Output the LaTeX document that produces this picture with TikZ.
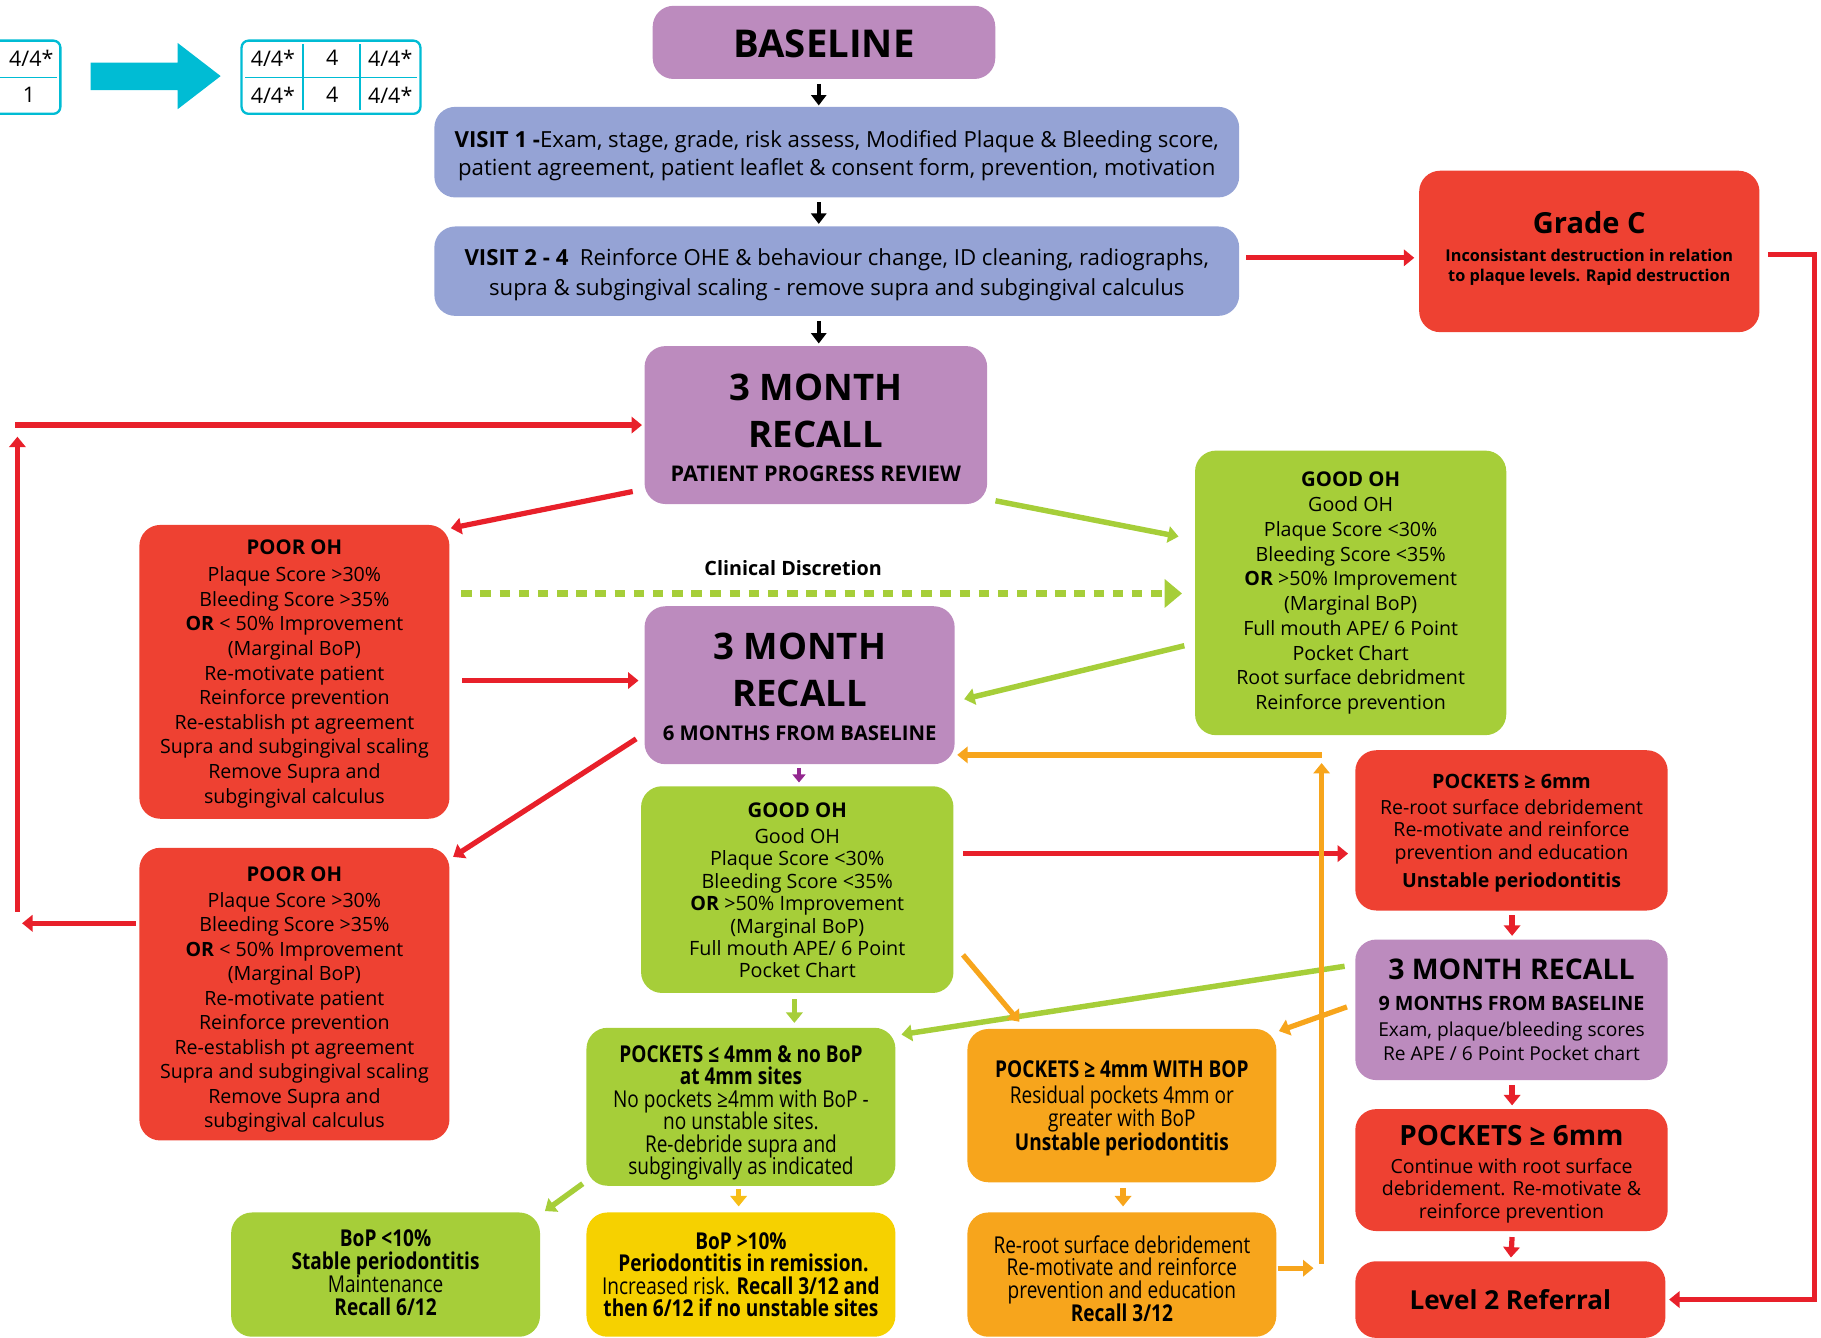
\documentclass[tikz,border=0pt]{standalone}
\usepackage{fontspec}
\setmainfont{Open Sans}
\newfontfamily\cond[FakeStretch=0.82]{Open Sans}
\usetikzlibrary{arrows.meta,calc}

\definecolor{cPurple}{HTML}{BC8BBE}
\definecolor{cBlue}{HTML}{95A3D5}
\definecolor{cRed}{HTML}{EE4132}
\definecolor{cRedLine}{HTML}{E8202A}
\definecolor{cGreen}{HTML}{A6CE39}
\definecolor{cOrange}{HTML}{F7A51C}
\definecolor{cYellow}{HTML}{F6D100}
\definecolor{cGold}{HTML}{F7BE16}
\definecolor{cCyan}{HTML}{00BCD4}
\definecolor{cPlum}{HTML}{93278F}

% font size with fixed leading (no lineskip fallback)
\newcommand{\fs}[2]{\fontsize{#1}{#2}\selectfont\lineskiplimit=-100pt\relax}
% invisible struts to nudge a text block down (\tup) or up (\tdn), in pt
\newcommand{\tup}[1]{\rule{0pt}{#1pt}}
\newcommand{\tdn}[1]{\rule[-#1pt]{0pt}{#1pt}}

\tikzset{
  box/.style={rounded corners=18pt, inner sep=0pt, align=center, text=black},
  conn/.style={line width=4.5pt, -{Triangle[length=9pt,width=14pt]}},
  redarr/.style={conn, draw=cRedLine},
  greenarr/.style={conn, draw=cGreen, line width=4.7pt},
  orangearr/.style={conn, draw=cOrange},
  blackarr/.style={line width=3pt, draw=black, -{Triangle[length=9pt,width=13pt]}},
  cell/.style={inner sep=0pt, font=\fs{18.5}{20}},
}

\begin{document}
\begin{tikzpicture}[x=1pt, y=-1pt]
\useasboundingbox (0,0) rectangle (1568,1152);
\clip (0,0) rectangle (1568,1152);

% ---------- tooth chart key ----------
\draw[cCyan, line width=2pt, rounded corners=6pt] (-20,35) rectangle (52,98);
\draw[cCyan, line width=1.2pt] (0,66.5) -- (49,66.5);
\node[cell] (ka) at (27,50) {4/4*};
\node[cell] (kb) at (25,82) {1};

\fill[cCyan] (78,54) -- (153,54) -- (153,37) -- (190,65.5) -- (153,94) -- (153,77.5) -- (78,77.5) -- cycle;

\draw[cCyan, line width=2pt, rounded corners=6pt] (208,35) rectangle (362,98);
\draw[cCyan, line width=1.2pt] (211,66.5) -- (359,66.5) (261,38) -- (261,95) (310,38) -- (310,95);
\node[cell] (kc) at (235,50) {4/4*};
\node[cell] (kd) at (286,50) {4};
\node[cell] (ke) at (336,50) {4/4*};
\node[cell] (kf) at (235,82) {4/4*};
\node[cell] (kg) at (286,82) {4};
\node[cell] (kh) at (336,82) {4/4*};

% ---------- boxes ----------
\node[box, fill=cPurple, minimum width=295pt, minimum height=63pt, font=\bfseries\fs{33}{36}]
  (baseline) at (709.5,36.5) {\tup{26}BASELINE};

\node[box, fill=cBlue, minimum width=693pt, minimum height=78pt, font=\fs{19.1}{24}]
  (visit1) at (720.5,131) {\tup{20.5}\textbf{VISIT 1 -}Exam, stage, grade, risk assess, Modified Plaque \& Bleeding score,\\
  patient agreement, patient leaflet \& consent form, prevention, motivation};

\node[box, fill=cBlue, minimum width=693pt, minimum height=77pt, font=\fs{19.1}{26}]
  (visit2) at (720.5,233.5) {\tup{20.5}\textbf{VISIT 2 - 4}\ \ Reinforce OHE \& behaviour change, ID cleaning, radiographs,\\
  supra \& subgingival scaling - remove supra and subgingival calculus};

\node[box, fill=cRed, minimum width=293pt, minimum height=139pt, font=\bfseries\fs{14}{18}]
  (gradec) at (1368.5,216.5) {{\fs{25}{25}Grade C}\\[6pt]
  Inconsistant destruction in relation\\ to plaque levels. Rapid destruction\tdn{8.5}};

\node[box, fill=cPurple, minimum width=295pt, minimum height=136pt, font=\bfseries\fs{31.5}{40}]
  (recall1) at (702.5,366) {\tup{28}3 MONTH\\ RECALL\\[-10pt] {\fs{18.6}{20}PATIENT PROGRESS REVIEW}};

\node[box, fill=cRed, minimum width=267pt, minimum height=253pt, font=\fs{16.9}{21.2}]
  (poor1) at (253.5,578.5) {{\bfseries\fs{17.5}{20}\tup{16.5}POOR OH}\\[1.8pt]
  Plaque Score >30\%\\ Bleeding Score >35\%\\ \textbf{OR} < 50\% Improvement\\ (Marginal BoP)\\
  Re-motivate patient\\ Reinforce prevention\\ Re-establish pt agreement\\
  Supra and subgingival scaling\\ Remove Supra and\\ subgingival calculus};

\node[box, fill=cGreen, minimum width=268pt, minimum height=245pt, font=\fs{16.9}{21.3}]
  (good1) at (1163,510.5) {{\bfseries\fs{17.5}{20}GOOD OH}\\[0.7pt]
  Good OH\\ Plaque Score <30\%\\ Bleeding Score <35\%\\ \textbf{OR} >50\% Improvement\\ (Marginal BoP)\\
  Full mouth APE/ 6 Point\\ Pocket Chart\\ Root surface debridment\\ Reinforce prevention};

\node[box, fill=cPurple, minimum width=267pt, minimum height=136pt, font=\bfseries\fs{31.5}{40}]
  (recall2) at (688.5,590) {\tup{25.5}3 MONTH\\ RECALL\\[-10.5pt] {\fs{17.5}{20}6 MONTHS FROM BASELINE}};

\node[box, fill=cGreen, minimum width=269pt, minimum height=178pt, font=\fs{17}{19.3}]
  (good2) at (686.5,766) {{\bfseries\fs{17.5}{20}\tup{14.5}GOOD OH}\\[2.7pt]
  Good OH\\ Plaque Score <30\%\\ Bleeding Score <35\%\\ \textbf{OR} >50\% Improvement\\ (Marginal BoP)\\
  Full mouth APE/ 6 Point\\ Pocket Chart};

\node[box, fill=cRed, minimum width=267pt, minimum height=252pt, font=\fs{16.9}{21.1}]
  (poor2) at (253.5,856) {{\bfseries\fs{17.5}{20}\tup{22.5}POOR OH}\\[1pt]
  Plaque Score >30\%\\ Bleeding Score >35\%\\ \textbf{OR} < 50\% Improvement\\ (Marginal BoP)\\
  Re-motivate patient\\ Reinforce prevention\\ Re-establish pt agreement\\
  Supra and subgingival scaling\\ Remove Supra and\\ subgingival calculus};

\node[box, fill=cRed, minimum width=269pt, minimum height=138pt, font=\fs{16.8}{19.3}]
  (pk6a) at (1301.5,715) {{\bfseries\fs{17}{20}\tup{17}POCKETS ≥ 6mm}\\[2.7pt]
  Re-root surface debridement\\ Re-motivate and reinforce\\ prevention and education\\[4.7pt]
  \textbf{Unstable periodontitis}};

\node[box, fill=cPurple, minimum width=269pt, minimum height=121pt, font=\fs{16.5}{20}]
  (recall3) at (1301.5,869.5) {{\bfseries\fs{24.5}{26}3 MONTH RECALL}\\[6pt]
  {\bfseries\fs{17}{20}9 MONTHS FROM BASELINE}\\[3pt]
  Exam, plaque/bleeding scores\\ Re APE / 6 Point Pocket chart};

\node[box, fill=cRed, minimum width=269pt, minimum height=105pt, font=\fs{16.8}{19.3}]
  (pk6b) at (1301.5,1007.5) {{\bfseries\fs{24}{26}\tup{24.5}POCKETS ≥ 6mm}\\[4.7pt]
  Continue with root surface\\ debridement. Re-motivate \&\\ reinforce prevention};

\node[box, fill=cRed, minimum width=267pt, minimum height=66pt, font=\bfseries\fs{22.5}{24}]
  (level2) at (1300.5,1119) {Level 2 Referral};

\node[box, fill=cGreen, minimum width=266pt, minimum height=136pt, font=\cond\fs{20}{19.4}]
  (pk4) at (638,953) {\tup{25}\textbf{POCKETS ≤ 4mm \& no BoP}\\ \textbf{at 4mm sites}\\
  No pockets ≥4mm with BoP -\\ no unstable sites.\\ Re-debride supra and\\ subgingivally as indicated};

\node[box, fill=cOrange, minimum width=266pt, minimum height=132pt, font=\cond\fs{20}{19.4}]
  (pk4bop) at (966,952) {\tup{19}\textbf{POCKETS ≥ 4mm WITH BOP}\\[3.6pt]
  Residual pockets 4mm or\\ greater with BoP\\[1.6pt] \textbf{Unstable periodontitis}};

\node[box, fill=cGreen, minimum width=266pt, minimum height=107pt, font=\cond\fs{20}{19.7}]
  (bopa) at (332,1097.5) {\textbf{BoP <10\%}\\ \textbf{Stable periodontitis}\\ Maintenance\\ \textbf{Recall 6/12}\tdn{4}};

\node[box, fill=cYellow, minimum width=266pt, minimum height=107pt, font=\cond\fs{20}{19.2}]
  (bopb) at (638,1097.5) {\textbf{BoP >10\%}\\ \textbf{\ Periodontitis in remission.}\\
  Increased risk. \textbf{Recall 3/12 and}\\ \textbf{then 6/12 if no unstable sites}};

\node[box, fill=cOrange, minimum width=266pt, minimum height=107pt, font=\cond\fs{20}{19.6}]
  (reroot) at (966,1097.5) {\tup{22}Re-root surface debridement\\ Re-motivate and reinforce\\
  prevention and education\\ \textbf{Recall 3/12}};

\node[font=\bfseries\fs{17}{20}, inner sep=0pt] (clin) at (683,489) {Clinical Discretion};

% ---------- free ends of the loop-back connectors ----------
\coordinate (lb)  at (19,795);
\coordinate (lb2) at (15,785);
\coordinate (lt2) at (15,376);
\coordinate (lt)  at (13,366);
\coordinate (ob)  at (1131,1092);
\coordinate (ob2) at (1138,1088);
\coordinate (ot2) at (1138,657);
\coordinate (ot)  at (1138,650);

% ---------- connectors ----------
\draw[blackarr] ($(baseline.south)+(-4.5,4)$) -- ($(visit1.north)+(-15.5,-1)$);
\draw[blackarr] ($(visit1.south)+(-15.5,4)$) -- ($(visit2.north)+(-15.5,-2)$);
\draw[blackarr] ($(visit2.south)+(-15.5,4)$) -- ($(recall1.north)+(2.5,-2)$);

\draw[redarr] ($(visit2.east)+(6,-11.5)$) -- ($(gradec.west)+(-4,5.5)$);
\draw[redarr] ($(gradec.east)+(7,2.5)$) -- ++(40,0) |- ($(level2.east)+(3,0)$);

\draw[redarr] ($(poor2.west)+(-3,-61)$) -- (lb);
\draw[redarr] (lb2) -- (lt2);
\draw[redarr] (lt) -- ($(recall1.west)+(-2,0)$);

\draw[redarr] ($(recall1.south west)+(-10,-11)$) -- ($(poor1.north east)+(1,3)$);
\draw[greenarr] ($(recall1.south east)+(7,-3)$) -- ($(good1.west)+(-14,-48.5)$);

\draw[draw=cGreen, line width=5.5pt, dash pattern=on 9pt off 7.5pt,
      -{Triangle[length=15pt,width=24pt]}]
  ($(poor1.east)+(10,-67.5)$) -- ($(good1.west)+(-11,0.5)$);

\draw[redarr] ($(poor1.east)+(11,7.5)$) -- ($(recall2.west)+(-5,-4)$);
\draw[greenarr] ($(good1.west)+(-9,45.5)$) -- ($(recall2.east)+(8,12)$);
\draw[redarr] ($(recall2.south west)+(-7,-22)$) -- ($(poor2.north east)+(3,8)$);
\draw[line width=3pt, draw=cPlum, -{Triangle[length=7pt,width=11pt]}]
  ($(recall2.south)+(-0.5,3)$) -- ($(good2.north)+(1.5,-3)$);

\draw[redarr] ($(good2.east)+(8,-31)$) -- ($(pk6a.west)+(-6,20)$);
\draw[redarr] ($(pk6a.south)+(0.5,4)$) -- ($(recall3.north)+(0.5,-3)$);
\draw[redarr] ($(recall3.south)+(0.5,4)$) -- ($(pk6b.north)+(0.5,-3)$);
\draw[redarr] ($(pk6b.south)+(0.5,5)$) -- ($(level2.north)+(0.5,-3)$);

\draw[greenarr] ($(recall3.west)+(-9,-37.5)$) -- ($(pk4.north east)+(5,6)$);
\draw[orangearr] ($(good2.south east)+(8,-33)$) -- ($(pk4bop.north west)+(45,-6)$);
\draw[orangearr] ($(recall3.west)+(-7,-2.5)$) -- ($(pk4bop.north east)+(2,2)$);
\draw[greenarr] ($(good2.south)+(-2.5,5)$) -- ($(pk4.north)+(46,-4)$);

\draw[greenarr] ($(pk4.south west)+(-3,-2)$) -- ($(bopa.north east)+(4,-1)$);
\draw[conn, draw=cGold] ($(pk4.south)+(-2,3)$) -- ($(bopb.north)+(-2,-5)$);
\draw[orangearr] ($(pk4bop.south)+(1,5)$) -- ($(reroot.north)+(1,-5)$);

\draw[orangearr] ($(reroot.east)+(1,-5.5)$) -- (ob);
\draw[orangearr] (ob2) -- (ot2);
\draw[orangearr] (ot) -- ($(recall2.east)+(2,60)$);

\end{tikzpicture}
\end{document}
